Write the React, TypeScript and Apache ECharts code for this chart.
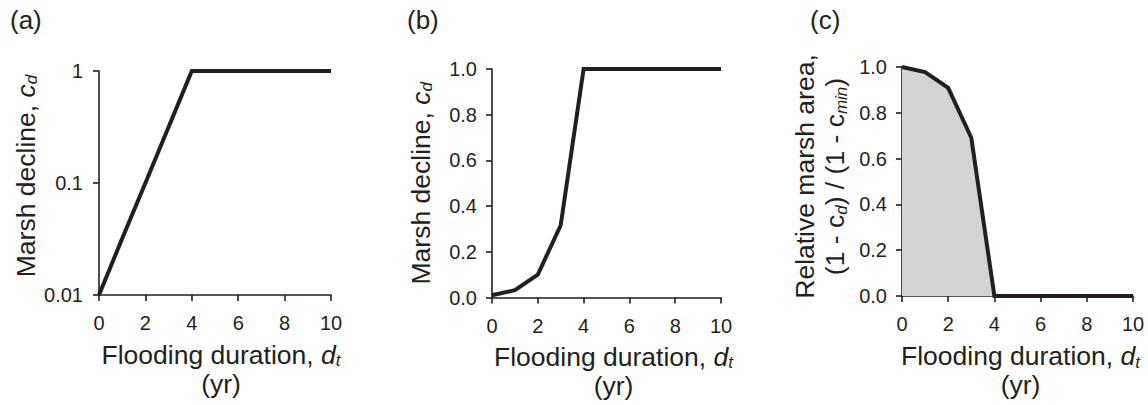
import React, { useEffect, useRef } from "react";
import * as echarts from "echarts";

// Flooding duration (yr)
const durations = [0, 1, 2, 3, 4, 10];
// Marsh decline c_d (panels a and b)
const declineValues = [0.01, 0.032, 0.1, 0.316, 1, 1];
// Relative marsh area (1 - c_d) / (1 - c_min) (panel c)
const relativeArea = [1, 0.978, 0.909, 0.691, 0, 0];
const xTicks = [0, 2, 4, 6, 8, 10];
const linTicks = [0, 0.2, 0.4, 0.6, 0.8, 1];
const logTicks = [0.01, 0.1, 1];
const panelLabels = ["(a)", "(b)", "(c)"];

const INK = "#231f20";
const FONT = "'Liberation Sans', Arial, Helvetica, sans-serif";
const TITLE_SIZE = 26.5;
const SUB_SIZE = 17;

const richTitle = (lh: number) => ({
  fontSize: TITLE_SIZE,
  lineHeight: lh,
  color: INK,
  fontFamily: FONT,
  rich: {
    n: { fontSize: TITLE_SIZE, lineHeight: lh, color: INK, fontFamily: FONT },
    i: { fontSize: TITLE_SIZE, lineHeight: lh, fontStyle: "italic", color: INK, fontFamily: FONT },
    s: { fontSize: SUB_SIZE, lineHeight: SUB_SIZE, fontStyle: "italic", verticalAlign: "bottom", color: INK, fontFamily: FONT },
  },
});

export default function App() {
  const ref = useRef<HTMLDivElement>(null);
  useEffect(() => {
    document.body.style.margin = "0";
    if (!ref.current) return;
    const chart = echarts.init(ref.current, undefined, { renderer: "svg" });

    const grids = [
      { left: 99, top: 71, width: 232, height: 224 },
      { left: 492, top: 69, width: 229, height: 231 },
      { left: 902, top: 67, width: 231, height: 229 },
    ];

    const axisLine = { show: true, lineStyle: { color: INK, width: 1.6 } };
    const tickBase = { show: true, inside: false, length: 6, lineStyle: { color: INK, width: 1.6 } };
    const axisLabelBase = { color: INK, fontSize: 20, fontFamily: FONT };

    const xName = "Flooding duration, {i|d}{s|t}\n(yr)";
    const xAxes = grids.map((_, k) => ({
      type: "value",
      gridIndex: k,
      min: 0,
      max: 10,
      interval: 2,
      axisLine,
      axisTick: { ...tickBase, customValues: xTicks },
      splitLine: { show: false },
      axisLabel: { ...axisLabelBase, margin: 18, customValues: xTicks },
      name: xName,
      nameLocation: "middle",
      nameGap: [45, 44.5, 45.5][k],
      nameTextStyle: { ...richTitle(29), padding: [0, 0, 0, [12, 14, 6][k]] },
    }));

    const yAxes = [
      {
        type: "log",
        gridIndex: 0,
        logBase: 10,
        min: 0.01,
        max: 1,
        axisLine,
        axisTick: { ...tickBase, customValues: logTicks },
        splitLine: { show: false },
        minorTick: { show: false },
        axisLabel: {
          ...axisLabelBase,
          margin: 16,
          customValues: logTicks,
          formatter: (v: number) => String(Number(v.toPrecision(2))),
        },
        name: "Marsh decline, {i|c}{s|d}",
        nameLocation: "middle",
        nameRotate: 90,
        nameGap: 58,
        nameTextStyle: { ...richTitle(29), padding: [0, 0, 0, 14] },
      },
      {
        type: "value",
        gridIndex: 1,
        min: 0,
        max: 1,
        interval: 0.2,
        axisLine,
        axisTick: { ...tickBase, customValues: linTicks },
        splitLine: { show: false },
        axisLabel: { ...axisLabelBase, margin: 15, customValues: linTicks, formatter: (v: number) => v.toFixed(1) },
        name: "Marsh decline, {i|c}{s|d}",
        nameLocation: "middle",
        nameRotate: 90,
        nameGap: 57,
        nameTextStyle: richTitle(29),
      },
      {
        type: "value",
        gridIndex: 2,
        min: 0,
        max: 1,
        interval: 0.2,
        axisLine,
        axisTick: { ...tickBase, customValues: linTicks },
        splitLine: { show: false },
        axisLabel: { ...axisLabelBase, margin: 15, customValues: linTicks, formatter: (v: number) => v.toFixed(1) },
        name: "Relative marsh area,\n(1 - c{s|d}) / (1 - c{s|min})",
        nameLocation: "middle",
        nameRotate: 90,
        nameGap: 52,
        nameTextStyle: { ...richTitle(30), padding: [0, 0, 0, 10] },
      },
    ];

    const lineStyle = { color: INK, width: 4, join: "miter" };
    const pairs = (ys: number[]) => durations.map((x, i) => [x, ys[i]]);

    chart.setOption({
      animation: false,
      backgroundColor: "#ffffff",
      textStyle: { fontFamily: FONT },
      grid: grids.map((g) => ({ ...g, containLabel: false })),
      xAxis: xAxes,
      yAxis: yAxes,
      series: [
        {
          type: "line",
          xAxisIndex: 0,
          yAxisIndex: 0,
          data: pairs(declineValues),
          showSymbol: false,
          symbol: "none",
          clip: false,
          lineStyle,
        },
        {
          type: "line",
          xAxisIndex: 1,
          yAxisIndex: 1,
          data: pairs(declineValues),
          showSymbol: false,
          symbol: "none",
          clip: false,
          lineStyle,
        },
        {
          type: "line",
          xAxisIndex: 2,
          yAxisIndex: 2,
          data: pairs(relativeArea),
          showSymbol: false,
          symbol: "none",
          clip: false,
          lineStyle,
          areaStyle: { color: "#d1d3d4", opacity: 1 },
          z: 3,
        },
      ],
      graphic: panelLabels.map((t, k) => ({
        type: "text",
        left: [10, 407, 810][k],
        top: 7,
        style: { text: t, fontSize: 26, fill: INK, fontFamily: FONT },
      })),
    });
    return () => chart.dispose();
  }, []);
  return <div ref={ref} style={{ width: 1148, height: 405 }} />;
}
